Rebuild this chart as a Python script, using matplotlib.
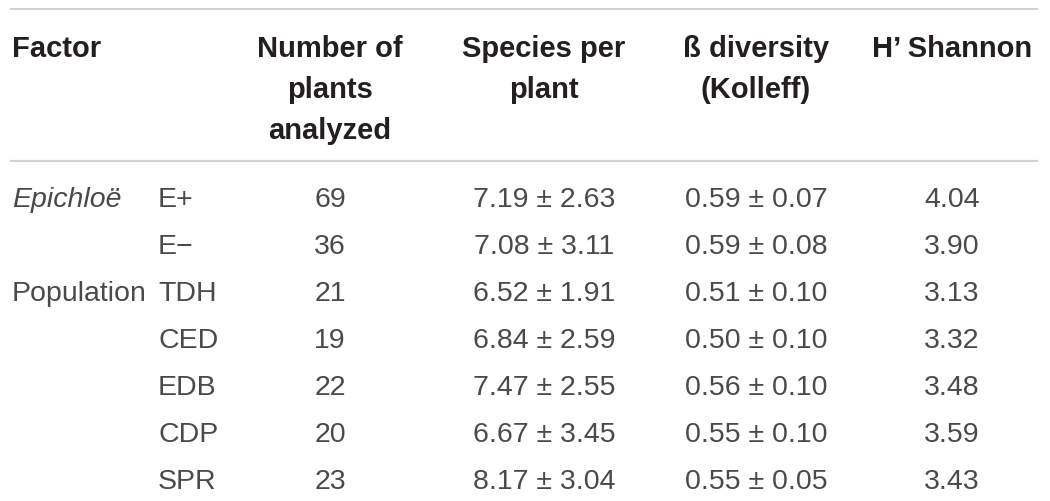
import matplotlib
matplotlib.use("Agg")
import matplotlib.pyplot as plt

# table content
factors = ["Epichloë", "", "Population", "", "", "", ""]
levels = ["E+", "E\u2212", "TDH", "CED", "EDB", "CDP", "SPR"]
n_plants = [69, 36, 21, 19, 22, 20, 23]
species_mean = [7.19, 7.08, 6.52, 6.84, 7.47, 6.67, 8.17]
species_sd = [2.63, 3.11, 1.91, 2.59, 2.55, 3.45, 3.04]
beta_mean = [0.59, 0.59, 0.51, 0.50, 0.56, 0.55, 0.55]
beta_sd = [0.07, 0.08, 0.10, 0.10, 0.10, 0.10, 0.05]
shannon = [4.04, 3.90, 3.13, 3.32, 3.48, 3.59, 3.43]

headers = [["Factor"],
           ["Number of", "plants", "analyzed"],
           ["Species per", "plant"],
           ["\u00df diversity", "(Kolleff)"],
           ["H\u2019 Shannon"]]

W, H = 1050, 502
fig = plt.figure(figsize=(W / 100, H / 100), dpi=100)
ax = fig.add_axes([0, 0, 1, 1])
ax.set_xlim(0, W)
ax.set_ylim(H, 0)
ax.set_axis_off()

head_font = dict(family="Liberation Sans", fontweight="bold", fontsize=21, color="#231f20")
body_font = dict(family="Liberation Sans", fontweight="normal", fontsize=20.5, color="#4a4a4a")

# column x positions (left aligned for first two, centred for the rest)
col_x = [12, 330, 544, 756, 952]
sub_x = 158

# header
head_base = 57
head_step = 41
for ci, lines in enumerate(headers):
    for li, line in enumerate(lines):
        ha = "left" if ci == 0 else "center"
        ax.text(col_x[ci], head_base + li * head_step, line, ha=ha, va="baseline", **head_font)

# rules
ax.plot([10, 1038], [10, 10], color="#c4c4c4", lw=1.1, solid_capstyle="butt")
ax.plot([10, 1038], [162, 162], color="#d2d2d2", lw=1.6, solid_capstyle="butt")

# body rows
row_base = 207
row_step = 47
for i in range(len(levels)):
    y = row_base + i * row_step
    if factors[i]:
        style = "italic" if i == 0 else "normal"
        ax.text(col_x[0], y, factors[i], ha="left", va="baseline", fontstyle=style, **body_font)
    ax.text(sub_x, y, levels[i], ha="left", va="baseline", **body_font)
    ax.text(col_x[1], y, str(n_plants[i]), ha="center", va="baseline", **body_font)
    ax.text(col_x[2], y, f"{species_mean[i]:.2f} \u00b1 {species_sd[i]:.2f}",
            ha="center", va="baseline", **body_font)
    ax.text(col_x[3], y, f"{beta_mean[i]:.2f} \u00b1 {beta_sd[i]:.2f}",
            ha="center", va="baseline", **body_font)
    ax.text(col_x[4], y, f"{shannon[i]:.2f}", ha="center", va="baseline", **body_font)

fig.savefig("out.png", dpi=100, facecolor="white")
